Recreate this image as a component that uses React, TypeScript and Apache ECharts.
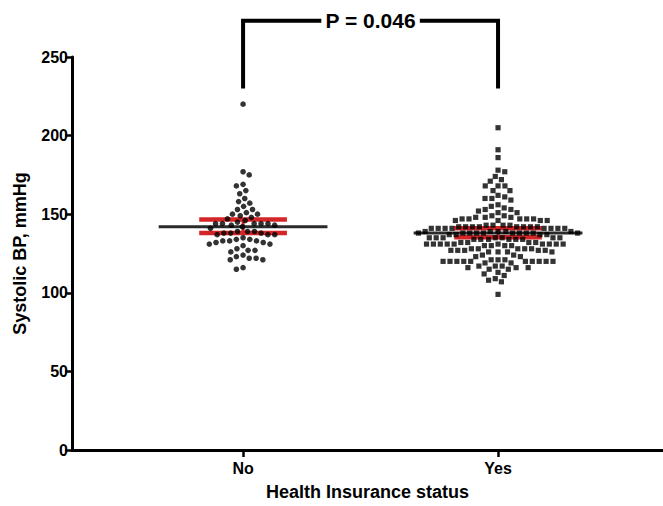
import React, { useEffect, useRef } from "react";
import * as echarts from "echarts";

// ---------- data ----------
const categories = ["No", "Yes"];

const noValues = [
  220, 177, 175, 169, 168, 165, 163, 160, 158, 157, 155, 153, 153, 151, 150, 150, 149, 148, 147, 146,
  145, 144, 144, 144, 144, 144, 143, 143, 142, 141,
  139, 139, 139, 138, 138, 138, 137, 137, 137,
  135, 134, 134, 133, 133, 133, 132, 132, 131, 131,
  130, 128, 127, 127, 126,
  124, 123, 122, 122, 121, 121,
  116, 115,
];

const yesValues = [
  205, 191, 186, 178, 177, 174, 172, 171, 168, 168, 168, 165, 165, 162, 161, 160, 160, 159, 156, 155,
  154, 153, 153, 152, 151, 151,
  149, 149, 148, 148, 148, 147, 147, 147, 147, 147, 146, 146, 146, 146,
  143, 143, 143, 143, 142, 142, 142, 142, 142, 142, 142, 142, 141, 141, 141, 141, 141, 141, 141, 141,
  139, 139, 139, 139, 139, 138, 138, 138, 138, 138, 138, 138, 138, 138, 138, 137, 137, 137, 137,
  135, 135, 135, 135, 135, 135, 135, 134, 134, 134, 134, 134, 134,
  132, 132, 132, 132, 131, 131, 131, 131, 131, 131, 131, 131, 131, 131, 130, 130, 130, 130,
  128, 128, 128, 128, 128, 127, 127, 127, 127, 127, 126, 126, 126, 126,
  124, 124, 123, 123,
  121, 121, 121, 120, 120, 120, 120, 120, 120, 120, 120, 120, 120, 119, 119,
  117, 117, 117, 116, 116, 116, 115, 115,
  113, 112, 111, 109, 108, 107, 99,
];

const groupMeans = [142, 138];
const ciLower = [138, 135.3];
const ciUpper = [146.6, 141];

const yTicks = [0, 50, 100, 150, 200, 250];
const pValueLabel = "P = 0.046";
const bracketBottom = 230;
const bracketTop = 273;

// ---------- layout / style ----------
const W = 663;
const H = 506;
const GRID = { left: 72, right: 0, top: 57, bottom: 54 };
const X_MIN = 0.329;
const X_MAX = 2.647;
const Y_MIN = yTicks[0];
const Y_MAX = yTicks[yTicks.length - 1];
const pxPerX = (W - GRID.left - GRID.right) / (X_MAX - X_MIN);
const pxPerY = (H - GRID.top - GRID.bottom) / (Y_MAX - Y_MIN);
const FONT = "'Liberation Sans', Arial, Helvetica, sans-serif";
const MEAN_HALF = 0.331;
const CI_HALF = 0.172;
const DOT_GAP = 6.9;

function swarm(values: number[], center: number, d: number): [number, number][] {
  const order = values.map((_, i) => i).sort((a, b) => values[b] - values[a]);
  const placed: { x: number; y: number }[] = [];
  const out: [number, number][] = new Array(values.length);
  let balance = 0;
  for (const i of order) {
    const y = values[i] * pxPerY;
    const near = placed.filter((p) => Math.abs(p.y - y) < d);
    const cands = [0];
    for (const p of near) {
      const dx = Math.sqrt(d * d - (p.y - y) * (p.y - y));
      cands.push(p.x + dx, p.x - dx);
    }
    const ok = cands.filter((c) =>
      near.every((p) => (p.x - c) * (p.x - c) + (p.y - y) * (p.y - y) >= d * d - 0.01)
    );
    ok.sort((a, b) => {
      const da = Math.abs(a) - Math.abs(b);
      if (Math.abs(da) > 0.01) return da;
      return balance <= 0 ? b - a : a - b;
    });
    const x = ok[0];
    placed.push({ x, y });
    balance += Math.sign(x);
    out[i] = [center + x / pxPerX, values[i]];
  }
  return out;
}

export default function App() {
  const ref = useRef<HTMLDivElement>(null);

  useEffect(() => {
    if (!ref.current) return;
    const chart = echarts.init(ref.current, undefined, { renderer: "svg" });

    const summaryData = categories.map((_, i) => [i + 1, groupMeans[i], ciLower[i], ciUpper[i]]);

    chart.setOption({
      animation: false,
      backgroundColor: "#ffffff",
      grid: { ...GRID, containLabel: false },
      xAxis: {
        type: "value",
        min: X_MIN,
        max: X_MAX,
        name: "Health Insurance status",
        nameLocation: "middle",
        nameGap: 33,
        nameTextStyle: { fontFamily: FONT, fontWeight: "bold", fontSize: 18, color: "#000" },
        axisLine: { show: true, onZero: false, lineStyle: { color: "#000", width: 3 } },
        axisTick: { show: true, customValues: [1, 2], length: 7, lineStyle: { color: "#000", width: 2.5 } },
        axisLabel: {
          show: true,
          customValues: [1, 2],
          formatter: (v: number) => categories[Math.round(v) - 1] ?? "",
          margin: 10,
          fontFamily: FONT,
          fontWeight: "bold",
          fontSize: 16,
          color: "#000",
        },
        splitLine: { show: false },
      },
      yAxis: {
        type: "value",
        min: Y_MIN,
        max: Y_MAX,
        interval: 50,
        name: "Systolic BP, mmHg",
        nameLocation: "middle",
        nameGap: 43,
        nameTextStyle: { fontFamily: FONT, fontWeight: "bold", fontSize: 18, color: "#000" },
        axisLine: { show: true, lineStyle: { color: "#000", width: 3 } },
        axisTick: { show: true, length: 7, lineStyle: { color: "#000", width: 2.5 } },
        axisLabel: {
          margin: 4,
          fontFamily: FONT,
          fontWeight: "bold",
          fontSize: 16,
          color: "#000",
        },
        splitLine: { show: false },
      },
      series: [
        {
          type: "custom",
          z: 1,
          clip: false,
          data: summaryData,
          renderItem: (_p: any, api: any) => {
            const cx = api.value(0);
            const mean = api.value(1);
            const lo = api.value(2);
            const hi = api.value(3);
            const mL = api.coord([cx - MEAN_HALF, mean]);
            const mR = api.coord([cx + MEAN_HALF, mean]);
            const hL = api.coord([cx - CI_HALF, hi]);
            const hR = api.coord([cx + CI_HALF, hi]);
            const lL = api.coord([cx - CI_HALF, lo]);
            const lR = api.coord([cx + CI_HALF, lo]);
            const cTop = api.coord([cx, hi]);
            const cBot = api.coord([cx, lo]);
            const red = { stroke: "#d42626", lineWidth: 4.5 };
            return {
              type: "group",
              children: [
                { type: "line", shape: { x1: hL[0], y1: hL[1], x2: hR[0], y2: hR[1] }, style: red },
                { type: "line", shape: { x1: lL[0], y1: lL[1], x2: lR[0], y2: lR[1] }, style: red },
                { type: "line", shape: { x1: cTop[0], y1: cTop[1], x2: cBot[0], y2: cBot[1] }, style: { stroke: "#d42626", lineWidth: 3 } },
                { type: "line", shape: { x1: mL[0], y1: mL[1], x2: mR[0], y2: mR[1] }, style: { stroke: "#2a2a2a", lineWidth: 3 } },
              ],
            };
          },
        },
        {
          type: "scatter",
          z: 3,
          symbol: "circle",
          symbolSize: 5.6,
          itemStyle: { color: "#000" },
          data: swarm(noValues, 1, DOT_GAP),
        },
        {
          type: "scatter",
          z: 3,
          symbol: "rect",
          symbolSize: 5.2,
          itemStyle: { color: "#000" },
          data: swarm(yesValues, 2, DOT_GAP),
        },
        {
          type: "custom",
          z: 4,
          clip: false,
          data: [[1, 2, bracketBottom, bracketTop]],
          renderItem: (_p: any, api: any) => {
            const a = api.value(0);
            const b = api.value(1);
            const lo = api.value(2);
            const hi = api.value(3);
            const p1 = api.coord([a, lo]);
            const p2 = api.coord([a, hi]);
            const p3 = api.coord([b, hi]);
            const p4 = api.coord([b, lo]);
            const mid = api.coord([(a + b) / 2, hi]);
            return {
              type: "group",
              children: [
                {
                  type: "polyline",
                  shape: { points: [p1, p2, p3, p4] },
                  style: { stroke: "#000", lineWidth: 4, fill: "none", lineJoin: "miter" },
                },
                {
                  type: "text",
                  x: mid[0],
                  y: mid[1],
                  style: {
                    text: pValueLabel,
                    font: `bold 21px ${FONT}`,
                    fill: "#000",
                    align: "center",
                    verticalAlign: "middle",
                    backgroundColor: "#ffffff",
                    padding: [0, 4],
                  },
                },
              ],
            };
          },
        },
      ],
    });

    return () => chart.dispose();
  }, []);

  return (
    <div
      ref={ref}
      style={{ position: "absolute", left: 0, top: 0, width: W, height: H }}
    />
  );
}
